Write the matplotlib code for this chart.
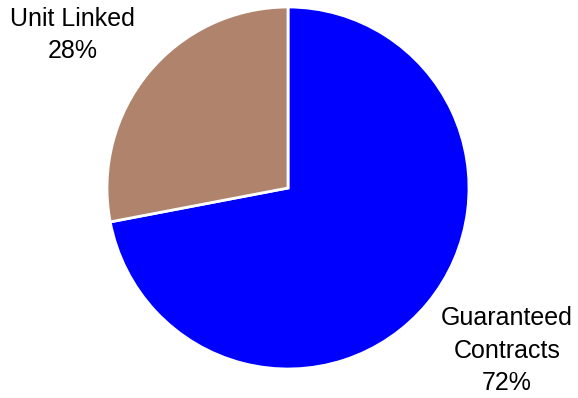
import matplotlib.pyplot as plt

plt.rcParams['font.family'] = ['Liberation Sans', 'DejaVu Sans']

categorias = ['Guaranteed\nContracts', 'Unit Linked']
valores = [72, 28]
colores = ['#0000FF', '#B0836C']
# posicion de cada etiqueta (x, y) en unidades del radio
pos_etiquetas = [(1.21, -0.90), (-1.19, 0.845)]

fig = plt.figure(figsize=(5.78, 3.98), dpi=100)
ax = fig.add_axes([107/578, 29/398, 362/578, 362/398])

wedges, _ = ax.pie(valores, colors=colores, startangle=90, counterclock=False,
                   wedgeprops=dict(edgecolor='white', linewidth=2))
ax.set_xlim(-1, 1)
ax.set_ylim(-1, 1)
ax.set_aspect('equal')

for nombre, v, (x, y) in zip(categorias, valores, pos_etiquetas):
    ax.text(x, y, '%s\n%d%%' % (nombre, v), ha='center', va='center',
            multialignment='center', fontsize=18, linespacing=1.45,
            clip_on=False)

fig.savefig('out.png', dpi=100)
